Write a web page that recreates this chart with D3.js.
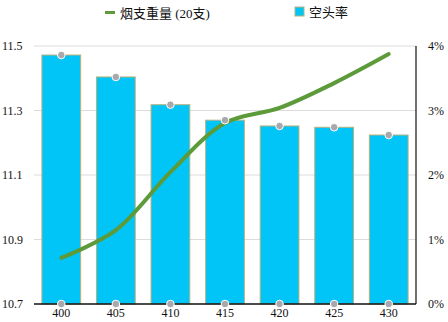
<!DOCTYPE html>
<html lang="zh">
<head>
<meta charset="UTF-8">
<title>烟支重量与空头率</title>
<script src="https://d3js.org/d3.v7.min.js"></script>
<style>
  body { margin: 0; background: #fff; }
  text { font-family: "Liberation Serif", "Noto Sans CJK SC", serif; }
</style>
</head>
<body>
<svg id="chart" width="448" height="322"></svg>
<script>
const categories = ["400", "405", "410", "415", "420", "425", "430"];
const weight = [10.843, 10.929, 11.109, 11.261, 11.308, 11.385, 11.475]; // 烟支重量 (20支)
const emptyRate = [3.86, 3.52, 3.09, 2.85, 2.76, 2.74, 2.62];           // 空头率 %
const leftTicks = [10.7, 10.9, 11.1, 11.3, 11.5];
const rightTicks = [0, 1, 2, 3, 4];

const width = 448, height = 322;
const margin = { top: 46, right: 32, bottom: 18, left: 34 };

const svg = d3.select("#chart");

const x = d3.scaleBand()
  .domain(categories)
  .range([margin.left, width - margin.right])
  .paddingInner(0.29)
  .paddingOuter(0.145);

const yL = d3.scaleLinear().domain([10.7, 11.5]).range([height - margin.bottom, margin.top]);
const yR = d3.scaleLinear().domain([0, 4]).range([height - margin.bottom, margin.top]);

// gridlines
svg.append("g")
  .selectAll("line")
  .data(leftTicks.slice(1))
  .join("line")
  .attr("x1", margin.left)
  .attr("x2", width - margin.right)
  .attr("y1", d => yL(d))
  .attr("y2", d => yL(d))
  .attr("stroke", "#dcdcdc")
  .attr("stroke-width", 1);

// bars
svg.append("g")
  .selectAll("rect")
  .data(categories)
  .join("rect")
  .attr("x", d => x(d))
  .attr("width", x.bandwidth())
  .attr("y", (d, i) => yR(emptyRate[i]))
  .attr("height", (d, i) => yR(0) - yR(emptyRate[i]))
  .attr("fill", "#00c5f6")
  .attr("stroke", "#b9b27c")
  .attr("stroke-width", 1);

// left axis labels
svg.append("g")
  .selectAll("text")
  .data(leftTicks)
  .join("text")
  .attr("x", 2)
  .attr("y", d => yL(d))
  .attr("dy", "0.35em")
  .attr("font-size", 12)
  .attr("fill", "#111")
  .text(d => d.toFixed(1));

// right axis labels
svg.append("g")
  .selectAll("text")
  .data(rightTicks)
  .join("text")
  .attr("x", 428)
  .attr("y", d => yR(d))
  .attr("dy", "0.35em")
  .attr("font-size", 12)
  .attr("fill", "#111")
  .text(d => d + "%");

// x labels
svg.append("g")
  .selectAll("text")
  .data(categories)
  .join("text")
  .attr("x", d => x(d) + x.bandwidth() / 2)
  .attr("y", height - 5)
  .attr("text-anchor", "middle")
  .attr("font-size", 12)
  .attr("fill", "#111")
  .text(d => d);

// axis lines
svg.append("line")
  .attr("x1", margin.left).attr("x2", width - margin.right)
  .attr("y1", yR(0)).attr("y2", yR(0))
  .attr("stroke", "#111").attr("stroke-width", 1.5);
svg.append("line")
  .attr("x1", width - margin.right).attr("x2", width - margin.right)
  .attr("y1", yR(4)).attr("y2", yR(0))
  .attr("stroke", "#111").attr("stroke-width", 1.2);

// weight line
const line = d3.line()
  .x((d, i) => x(categories[i]) + x.bandwidth() / 2)
  .y(d => yL(d))
  .curve(d3.curveCatmullRom.alpha(0.5));

svg.append("path")
  .datum(weight)
  .attr("d", line)
  .attr("fill", "none")
  .attr("stroke", "#5c9a3a")
  .attr("stroke-width", 4)
  .attr("stroke-linecap", "round");

// dots on bar tops and baseline
const dots = svg.append("g");
dots.selectAll(".top")
  .data(categories)
  .join("circle")
  .attr("class", "top")
  .attr("cx", d => x(d) + x.bandwidth() / 2)
  .attr("cy", (d, i) => yR(emptyRate[i]))
  .attr("r", 3.8)
  .attr("fill", "#a9a9ad")
  .attr("stroke", "#fff")
  .attr("stroke-width", 1);
dots.selectAll(".base")
  .data(categories)
  .join("circle")
  .attr("class", "base")
  .attr("cx", d => x(d) + x.bandwidth() / 2)
  .attr("cy", yR(0))
  .attr("r", 3.8)
  .attr("fill", "#a9a9ad")
  .attr("stroke", "#fff")
  .attr("stroke-width", 1);

// legend
const legend = svg.append("g");
legend.append("rect")
  .attr("x", 105).attr("y", 11).attr("width", 10).attr("height", 3)
  .attr("fill", "#5c9a3a");
legend.append("text")
  .attr("x", 120).attr("y", 13).attr("dy", "0.35em")
  .attr("font-size", 13).attr("fill", "#111")
  .text("烟支重量 (20支)");
legend.append("rect")
  .attr("x", 295).attr("y", 7).attr("width", 9).attr("height", 9)
  .attr("fill", "#00c5f6").attr("stroke", "#b9b27c");
legend.append("text")
  .attr("x", 309).attr("y", 12).attr("dy", "0.35em")
  .attr("font-size", 13).attr("fill", "#111")
  .text("空头率");
</script>
</body>
</html>
